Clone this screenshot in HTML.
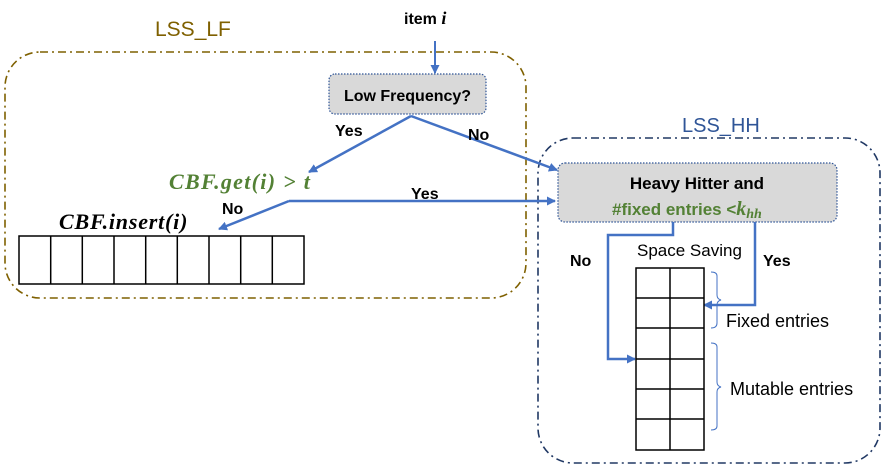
<!DOCTYPE html>
<html><head><meta charset="utf-8"><style>
html,body{margin:0;padding:0;background:#fff;}
svg{display:block;}
.b{font-family:"Liberation Sans",sans-serif;font-weight:bold;font-size:15px;}
.n{font-family:"Liberation Sans",sans-serif;font-size:16px;}
.m{font-family:"Liberation Serif",serif;font-weight:bold;font-style:italic;font-size:20px;}
</style></head><body>
<svg width="888" height="472" viewBox="0 0 888 472" xmlns="http://www.w3.org/2000/svg">
<defs>
<marker id="a" markerWidth="9" markerHeight="9" refX="8" refY="4.5" orient="auto" markerUnits="userSpaceOnUse">
<path d="M0,0 L9,4.5 L0,9 Z" fill="#4472c4"/></marker>
</defs>
<rect x="5" y="52" width="521" height="246" rx="35" fill="none" stroke="#7f6000" stroke-width="1.6" stroke-dasharray="8,4,2,4"/>
<text x="155" y="36" font-family="Liberation Sans,sans-serif" font-size="21" fill="#7f6000">LSS_LF</text>
<rect x="538" y="138" width="342" height="325" rx="35" fill="none" stroke="#203864" stroke-width="1.6" stroke-dasharray="8,4,2,4"/>
<text x="682" y="132" font-family="Liberation Sans,sans-serif" font-size="20" fill="#2f5597">LSS_HH</text>
<text x="404" y="24" class="b" style="font-size:16px;fill:#000">item <tspan class="m" style="font-size:18px">i</tspan></text>
<line x1="435" y1="41" x2="435" y2="73" stroke="#4472c4" stroke-width="2" marker-end="url(#a)"/>
<rect x="329" y="74" width="157" height="40" rx="6" fill="#d9d9d9" stroke="#2f5597" stroke-width="1.2" stroke-dasharray="1.5,1.5"/>
<text x="407.5" y="101" class="b" style="font-size:16px;fill:#000" text-anchor="middle">Low Frequency?</text>
<polyline points="411,116 309,172" fill="none" stroke="#4472c4" stroke-width="2.5" marker-end="url(#a)"/>
<polyline points="411,116 557,170" fill="none" stroke="#4472c4" stroke-width="2.5" marker-end="url(#a)"/>
<text x="335" y="136" class="b" style="font-size:16px;fill:#000">Yes</text>
<text x="468" y="140" class="b" style="font-size:16px;fill:#000">No</text>
<text x="169" y="189" class="m" style="fill:#538135;font-size:22px;letter-spacing:1.3px">CBF.get(i) &gt; t</text>
<polyline points="289,201 555,201" fill="none" stroke="#4472c4" stroke-width="2.5" marker-end="url(#a)"/>
<polyline points="289,201 219,229" fill="none" stroke="#4472c4" stroke-width="2.5" marker-end="url(#a)"/>
<text x="411" y="199" class="b" style="font-size:16px;fill:#000">Yes</text>
<text x="222" y="214" class="b" style="font-size:16px;fill:#000">No</text>
<text x="59" y="229" class="m" style="fill:#000;font-size:22px;letter-spacing:0.8px">CBF.insert(i)</text>
<g stroke="#000" stroke-width="1.5" fill="#fff">
<rect x="19" y="236" width="285" height="48"/>
<line x1="50.7" y1="236" x2="50.7" y2="284"/><line x1="82.3" y1="236" x2="82.3" y2="284"/>
<line x1="114" y1="236" x2="114" y2="284"/><line x1="145.7" y1="236" x2="145.7" y2="284"/>
<line x1="177.3" y1="236" x2="177.3" y2="284"/><line x1="209" y1="236" x2="209" y2="284"/>
<line x1="240.7" y1="236" x2="240.7" y2="284"/><line x1="272.3" y1="236" x2="272.3" y2="284"/>
</g>
<rect x="558" y="163" width="279" height="59" rx="7" fill="#d9d9d9" stroke="#2f5597" stroke-width="1.2" stroke-dasharray="1.5,1.5"/>
<text x="697" y="189" class="b" style="font-size:17px;fill:#000" text-anchor="middle">Heavy Hitter and</text>
<text x="612" y="215" class="b" style="font-size:17px;fill:#538135">#fixed entries &lt;<tspan class="m" style="font-size:20px;fill:#538135">k</tspan><tspan class="m" style="font-size:14px;fill:#538135" dy="3">hh</tspan></text>
<polyline points="673,222 673,235 608,235 608,359 635,359" fill="none" stroke="#4472c4" stroke-width="2.5" marker-end="url(#a)"/>
<polyline points="755,222 755,305 704,305" fill="none" stroke="#4472c4" stroke-width="2.5" marker-end="url(#a)"/>
<text x="570" y="266" class="b" style="font-size:16px;fill:#000">No</text>
<text x="763" y="266" class="b" style="font-size:16px;fill:#000">Yes</text>
<text x="637" y="256" class="n" style="font-size:17px;fill:#000">Space Saving</text>
<g stroke="#000" stroke-width="1.5" fill="none">
<rect x="636" y="268" width="68" height="182" fill="#fff"/>
<line x1="670" y1="268" x2="670" y2="450"/>
<line x1="636" y1="298" x2="704" y2="298"/><line x1="636" y1="328" x2="704" y2="328"/>
<line x1="636" y1="359" x2="704" y2="359"/><line x1="636" y1="389" x2="704" y2="389"/>
<line x1="636" y1="419" x2="704" y2="419"/>
</g>
<path d="M711,272 Q717,272 717,276 L717,295 Q717,299 721,300 Q717,301 717,305 L717,323 Q717,328 711,328" fill="none" stroke="#4472c4" stroke-width="1"/>
<path d="M711,343 Q717,343 717,347 L717,382 Q717,386 721,387 Q717,388 717,392 L717,426 Q717,430 711,430" fill="none" stroke="#4472c4" stroke-width="1"/>
<text x="726" y="327" class="n" style="font-size:18px;fill:#000">Fixed entries</text>
<text x="730" y="395" class="n" style="font-size:18px;fill:#000">Mutable entries</text>
</svg>
</body></html>
